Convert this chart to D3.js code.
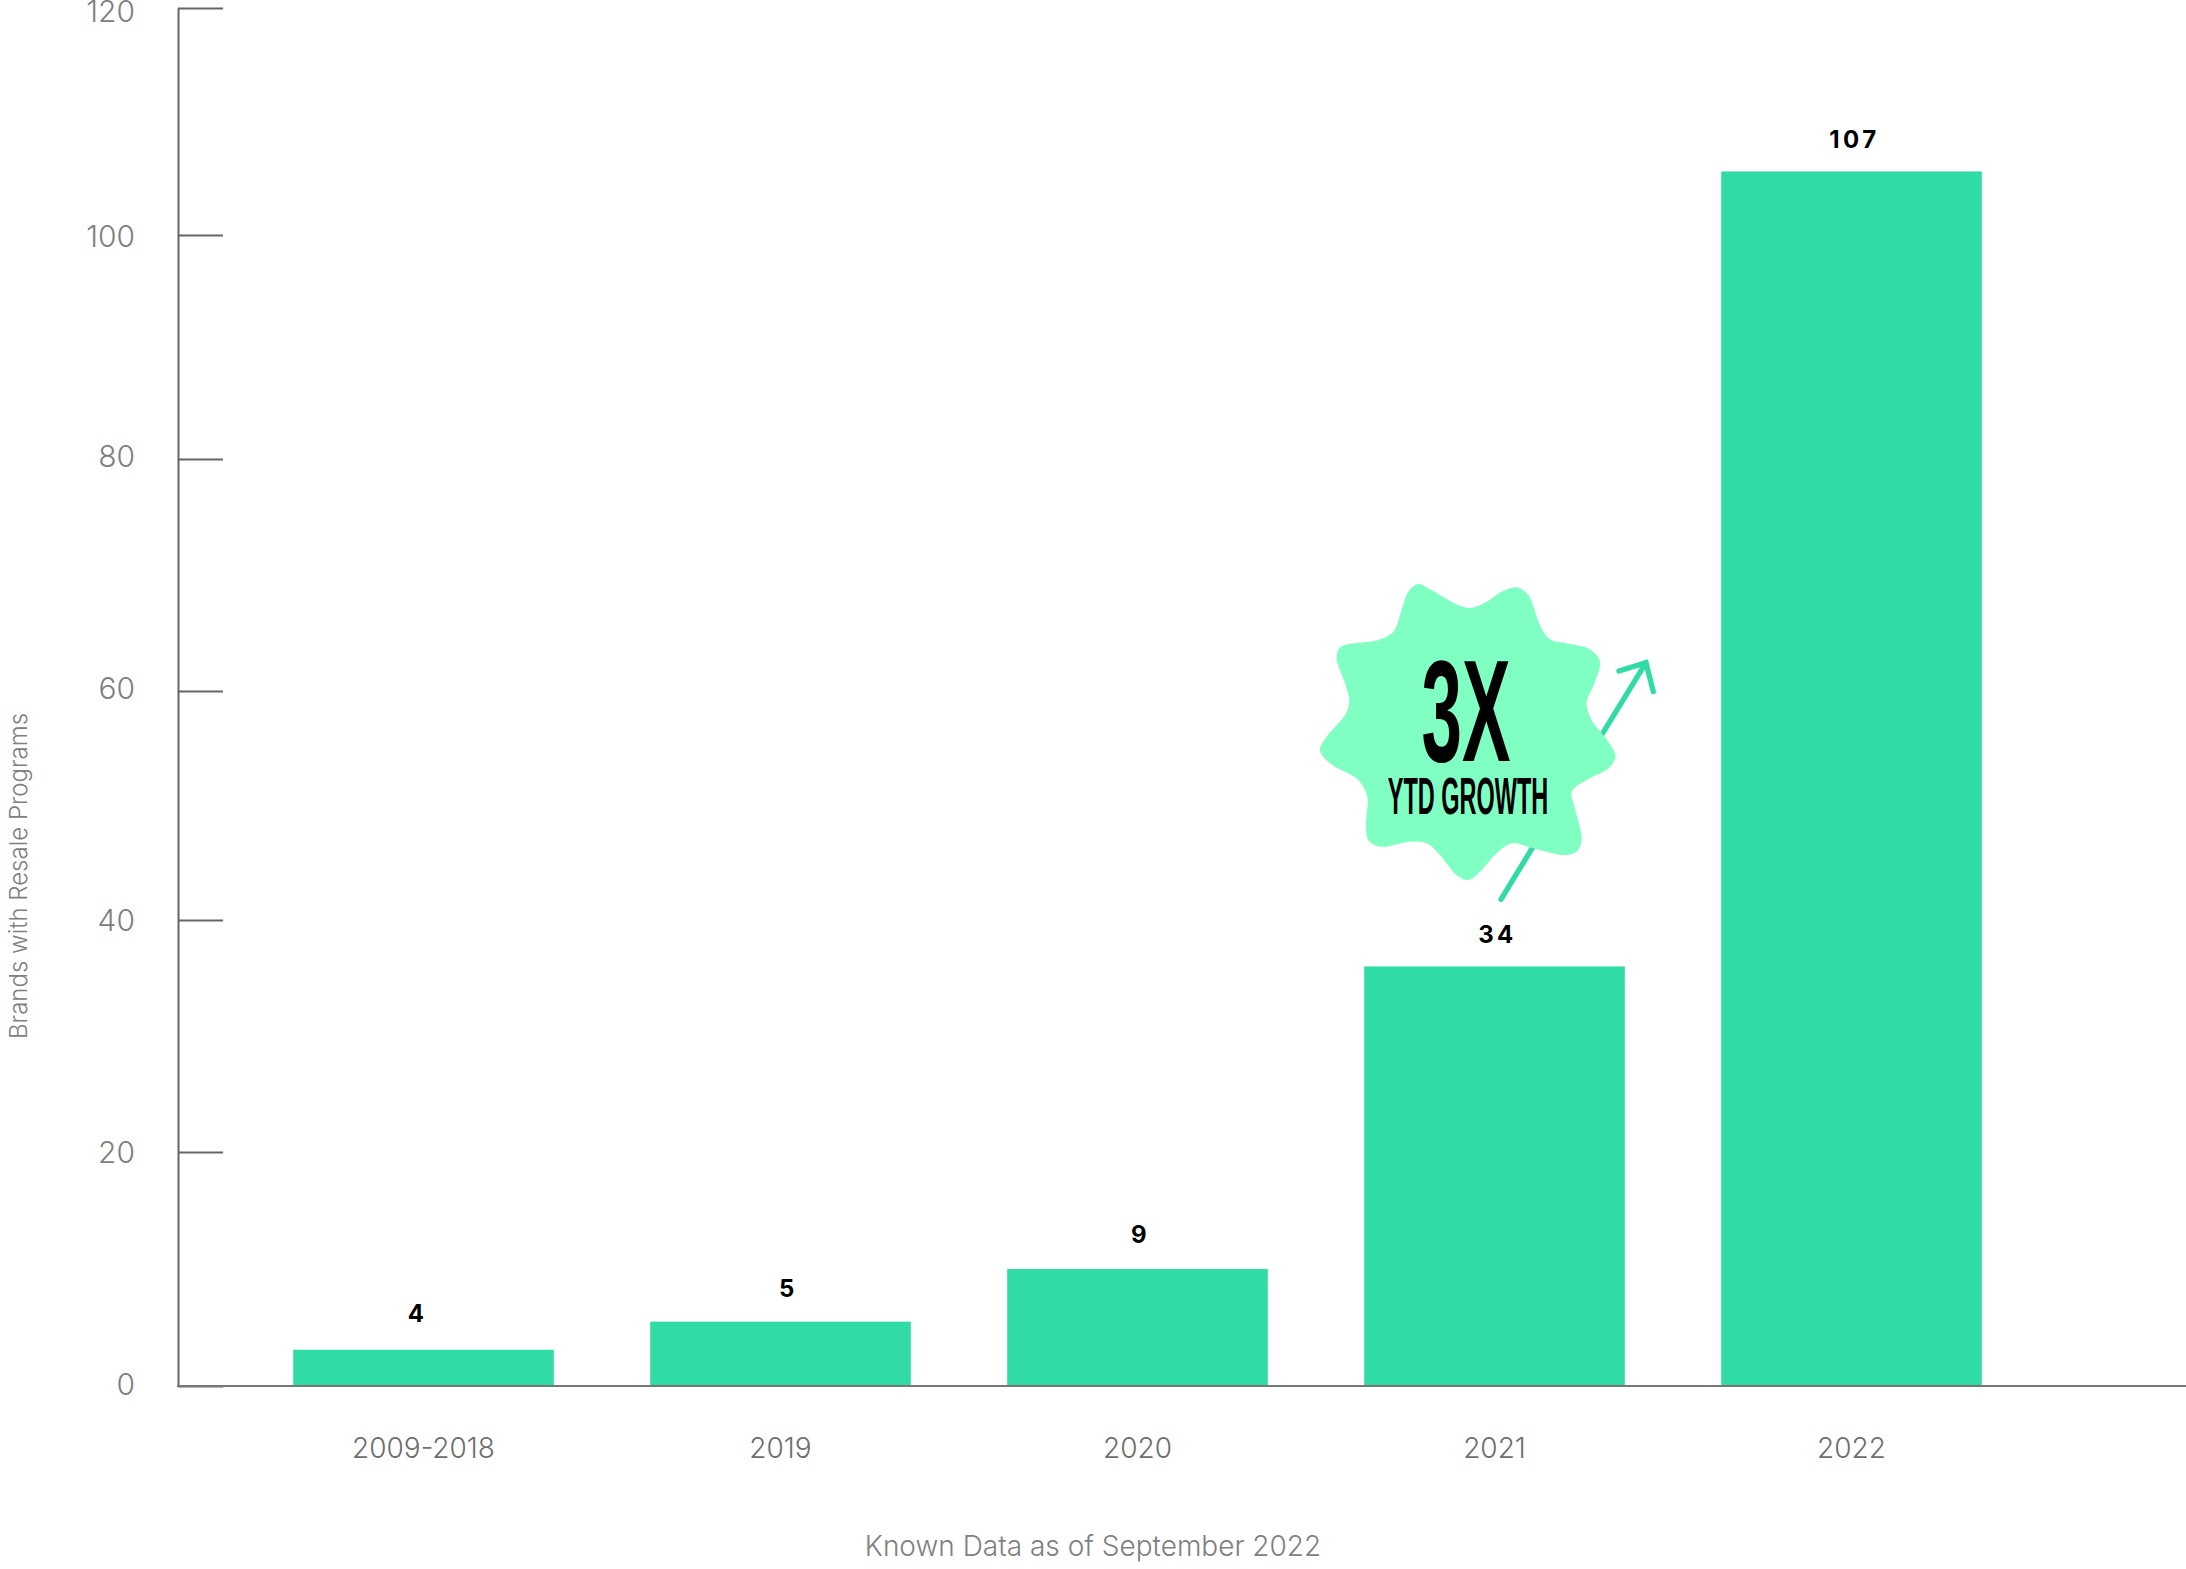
<!DOCTYPE html>
<html>
<head>
<meta charset="utf-8">
<script src="https://cdn.jsdelivr.net/npm/d3@7"></script>
<style>
  html, body { margin: 0; padding: 0; background: #fff; }
  svg { display: block; }
  text { font-family: Inter, "Noto Sans", sans-serif; }
  .tick text { font-weight: 300; }
  .narrow { font-family: "Liberation Sans Narrow", "Liberation Sans", sans-serif; font-weight: 700; }
</style>
</head>
<body>
<div id="viz"></div>
<script>
var categories = ['2009-2018', '2019', '2020', '2021', '2022'];
// bar heights as drawn, they do not quite agree with the printed labels
var barValues = [3.1, 5.5, 10.0, 36.0, 105.6];
var barLabels = ['4', '5', '9', '34', '107'];
var labelNudge = [-6, 8, 3, 3, 3];
var labelGap = [28, 25, 26, 23, 23];
var yTicks = [0, 20, 40, 60, 80, 100, 120];
var yTickRows = [1386, 1152, 920, 691, 459, 235, 8];
var yLabelNudge = [1, 3, 3, 0, 0, 4, 6];

var width = 2186, height = 1569;
var axisX = 178;

// outline of the badge, in px relative to its crop
var badgeOutline = [[385,95],[415,72],[450,88],[520,128],[568,144],[615,128],[665,95],[710,82],[745,105],[780,195],[810,238],[870,252],[930,268],[960,305],[945,365],[920,430],[935,480],[985,545],[1007,590],[985,625],[920,660],[875,695],[885,745],[905,840],[890,875],[850,885],[760,865],[695,850],[650,880],[600,935],[565,960],[530,945],[480,885],[440,850],[390,845],[300,860],[265,840],[258,790],[262,710],[235,660],[150,610],[120,570],[140,530],[195,465],[208,425],[195,370],[170,295],[180,262],[210,252],[295,240],[340,215],[365,150]];

var svg = d3.select('#viz').append('svg')
  .attr('width', width)
  .attr('height', height);

var x = d3.scaleBand()
  .domain(categories)
  .range([245, 2030])
  .paddingInner(0.27)
  .paddingOuter(0.135);

// the tick spacing in the source is slightly uneven
var y = d3.scaleLinear()
  .domain(yTicks)
  .range(yTickRows);

svg.selectAll('rect.bar')
  .data(barValues)
  .enter().append('rect')
  .attr('class', 'bar')
  .attr('x', function (d, i) { return x(categories[i]); })
  .attr('y', function (d) { return y(d); })
  .attr('width', x.bandwidth())
  .attr('height', function (d) { return y(0) - y(d); })
  .attr('fill', '#31dba6');

var yAxis = svg.append('g')
  .attr('transform', 'translate(' + axisX + ',0)')
  .call(d3.axisLeft(y).tickValues(yTicks).tickSizeInner(-45).tickSizeOuter(0).tickPadding(43));
yAxis.selectAll('line, path').attr('stroke', '#666').attr('stroke-width', 2);
yAxis.selectAll('text')
  .attr('font-size', 30)
  .attr('fill', '#808080')
  .attr('dy', '0.25em')
  .attr('y', function (d, i) { return yLabelNudge[i]; });

var xAxis = svg.append('g')
  .attr('transform', 'translate(0,' + y(0) + ')')
  .call(d3.axisBottom(x).tickSize(0).tickPadding(52));
xAxis.select('.domain').remove();
xAxis.selectAll('text')
  .attr('font-size', 28)
  .attr('fill', '#6e6e6e');

// baseline runs on past the last bar
svg.append('line')
  .attr('x1', axisX - 1).attr('x2', width)
  .attr('y1', y(0)).attr('y2', y(0))
  .attr('stroke', '#777').attr('stroke-width', 2);

svg.selectAll('text.value')
  .data(barLabels)
  .enter().append('text')
  .attr('class', 'value')
  .attr('x', function (d, i) { return x(categories[i]) + x.bandwidth() / 2 + labelNudge[i]; })
  .attr('y', function (d, i) { return y(barValues[i]) - labelGap[i]; })
  .attr('text-anchor', 'middle')
  .attr('font-size', 24)
  .attr('font-weight', 700)
  .attr('letter-spacing', 3.5)
  .attr('fill', '#000')
  .text(function (d) { return d; });

svg.append('text')
  .attr('transform', 'translate(27,876) rotate(-90)')
  .attr('text-anchor', 'middle')
  .attr('font-size', 24)
  .attr('font-weight', 300)
  .attr('fill', '#808080')
  .text('Brands with Resale Programs');

svg.append('text')
  .attr('x', 1093).attr('y', 1556)
  .attr('text-anchor', 'middle')
  .attr('font-size', 28)
  .attr('font-weight', 300)
  .attr('fill', '#808080')
  .text('Known Data as of September 2022');

// callout: crop coordinates are 3x, origin at 1280,560
var callout = svg.append('g')
  .attr('transform', 'translate(1280,560) scale(0.3333)');

callout.append('path')
  .attr('d', 'M663,1018L1098,308M1017,333L1098,308L1120,395')
  .attr('fill', 'none')
  .attr('stroke', '#31dba6')
  .attr('stroke-width', 16)
  .attr('stroke-linecap', 'round')
  .attr('stroke-linejoin', 'miter');

callout.append('path')
  .attr('d', d3.line().curve(d3.curveCatmullRomClosed.alpha(0.5))(badgeOutline))
  .attr('fill', '#80ffc3');

callout.append('text')
  .attr('class', 'narrow')
  .attr('transform', 'translate(558,603) scale(0.505,1)')
  .attr('text-anchor', 'middle')
  .attr('font-size', 432)
  .attr('fill', '#000')
  .text('3X');

callout.append('text')
  .attr('class', 'narrow')
  .attr('transform', 'translate(564,762) scale(0.452,1)')
  .attr('text-anchor', 'middle')
  .attr('font-size', 156)
  .attr('fill', '#000')
  .text('YTD GROWTH');
</script>
</body>
</html>
